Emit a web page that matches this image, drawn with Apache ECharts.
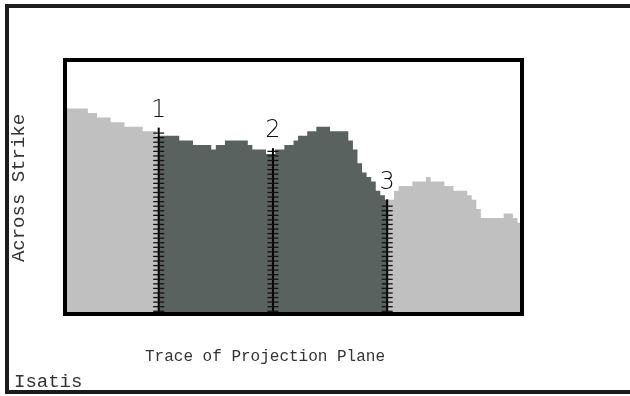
<!DOCTYPE html>
<html>
<head>
<meta charset="utf-8">
<script src="https://cdn.jsdelivr.net/npm/echarts@6/dist/echarts.min.js"></script>
<style>
  html, body { margin: 0; padding: 0; background: #fff; }
  #chart { width: 630px; height: 396px; }
</style>
</head>
<body>
<div id="chart"></div>
<script>
// Profile height (in cell levels) for each of the 100 trace columns
const profileLevels = [
  45, 45, 45, 45, 45, 44, 44, 43, 43, 43,
  42, 42, 42, 41, 41, 41, 41, 40, 40, 40,
  39, 39, 39, 39, 39, 38, 38, 38, 37, 37,
  37, 37, 36, 37, 37, 38, 38, 38, 38, 38,
  37, 36, 36, 36, 35, 35, 36, 36, 37, 37,
  38, 39, 39, 40, 40, 41, 41, 41, 40, 40,
  40, 40, 38, 36, 33, 31, 30, 29, 27, 26,
  25, 25, 27, 28, 28, 28, 29, 29, 29, 30,
  29, 29, 29, 28, 28, 27, 27, 27, 26, 25,
  23, 21, 21, 21, 21, 21, 22, 22, 21, 20
];
// Section markers along the trace (column position) and their top level
const markerPos = [20.5, 45.5, 70.5];
const markerTop = [40.8, 36.3, 25.1];
const markerNames = ['1', '2', '3'];

const traceMax = 100;
const levelMax = 55.6;

// Step outline of the profile between trace positions a and b
function stepPoints(a, b) {
  const pts = [[a, profileLevels[Math.floor(a)]]];
  for (let k = Math.floor(a) + 1; k < b; k++) pts.push([k, profileLevels[k]]);
  pts.push([b, profileLevels[Math.min(Math.ceil(b) - 1, profileLevels.length - 1)]]);
  return pts;
}

function profileSeries(data, color) {
  return {
    type: 'line', step: 'end', data: data, symbol: 'none', silent: true,
    lineStyle: { width: 0, opacity: 0 },
    areaStyle: { color: color, opacity: 1 },
    z: 2
  };
}

const chart = echarts.init(document.getElementById('chart'), null, { renderer: 'canvas' });
chart.setOption({
  animation: false,
  backgroundColor: '#ffffff',
  grid: {
    left: 65, right: 108, top: 60, bottom: 82,
    show: true, borderWidth: 4, borderColor: '#000000',
    backgroundColor: 'rgba(0,0,0,0)', z: 5
  },
  xAxis: { type: 'value', min: 0, max: traceMax, show: false },
  yAxis: { type: 'value', min: 0, max: levelMax, show: false },
  graphic: [
    {
      type: 'polyline', silent: true,
      shape: { points: [[630, 6], [7, 6], [7, 392], [630, 392]] },
      style: { stroke: '#1c1c1c', lineWidth: 4, fill: null }
    },
    {
      type: 'text', silent: true,
      x: 265, y: 357,
      style: {
        text: 'Trace of Projection Plane', fill: '#333',
        font: '16px "Liberation Mono", monospace',
        align: 'center', verticalAlign: 'middle'
      }
    },
    {
      type: 'text', silent: true,
      x: 19, y: 188, rotation: Math.PI / 2,
      style: {
        text: 'Across Strike', fill: '#333',
        font: '19px "Liberation Mono", monospace',
        align: 'center', verticalAlign: 'middle'
      }
    },
    {
      type: 'text', silent: true,
      x: 14, y: 382,
      style: {
        text: 'Isatis', fill: '#333',
        font: '19px "Liberation Mono", monospace',
        align: 'left', verticalAlign: 'middle'
      }
    }
  ],
  series: [
    profileSeries(stepPoints(0, markerPos[0]), '#c0c0c0'),
    profileSeries(stepPoints(markerPos[0], markerPos[2]), '#5a6260'),
    profileSeries(stepPoints(markerPos[2], traceMax), '#c0c0c0'),
    {
      type: 'custom', silent: true, z: 10,
      data: markerPos.map((p, i) => [p, markerTop[i], markerNames[i]]),
      renderItem: function (params, api) {
        const x = api.value(0), top = api.value(1);
        const pTop = api.coord([x, top]);
        const pBot = api.coord([x, 0]);
        const children = [{
          type: 'line',
          shape: { x1: pTop[0], y1: pTop[1], x2: pBot[0], y2: pBot[1] },
          style: { stroke: '#000', lineWidth: 2 }
        }];
        for (let k = 0; k + 0.6 < top - 0.5; k++) {
          const p = api.coord([x, k + 0.6]);
          children.push({
            type: 'line',
            shape: { x1: p[0] - 5.5, y1: p[1], x2: p[0] + 5.5, y2: p[1] },
            style: { stroke: '#111', lineWidth: 1.3 }
          });
        }
        children.push({
          type: 'text',
          x: pTop[0], y: pTop[1] - 5,
          style: {
            text: markerNames[params.dataIndex], fill: '#111',
            font: '200 24px "DejaVu Sans", sans-serif',
            align: 'center', verticalAlign: 'bottom'
          }
        });
        return { type: 'group', children: children };
      }
    }
  ]
});
</script>
</body>
</html>
